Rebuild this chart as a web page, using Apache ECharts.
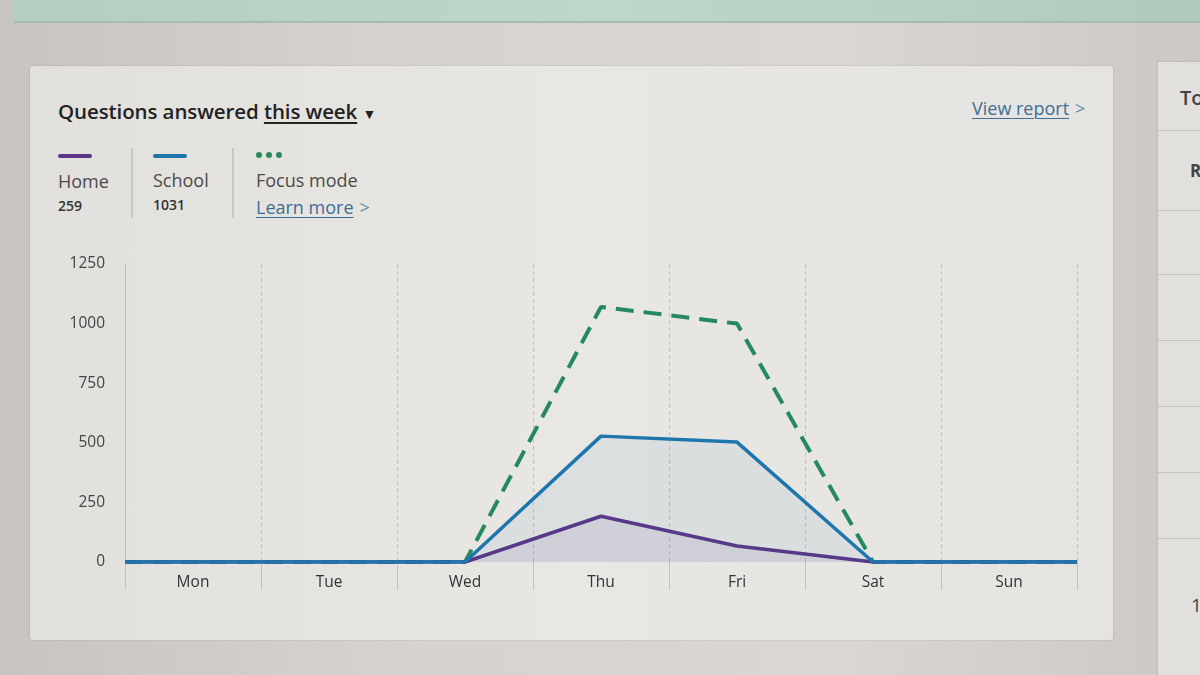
<!DOCTYPE html>
<html><head><meta charset="utf-8">
<script src="https://cdn.jsdelivr.net/npm/echarts@6/dist/echarts.min.js"></script>
<style>
body{margin:0;width:1200px;height:675px;overflow:hidden;position:relative;
 background:linear-gradient(90deg,#c8c4c1 0%,#d6d3d0 35%,#d9d6d3 70%,#cbc8c5 100%);
 font-family:"Open Sans","Noto Sans",sans-serif;}
.abs{position:absolute;white-space:nowrap;}
.strip{left:14px;top:0;width:1186px;height:21px;background:linear-gradient(90deg,#b3cfc1,#bcd8ca 50%,#b2cabe);border-bottom:2px solid #a7bcb1;}
.card{left:30px;top:66px;width:1083px;height:574px;background:linear-gradient(90deg,#e2e0dd,#e9e7e4 50%,#e6e4e1);border-radius:3px;box-shadow:0 0 2px rgba(0,0,0,0.18);}
.side{left:1158px;top:62px;width:60px;height:613px;background:#e2e0dd;box-shadow:0 0 2px rgba(0,0,0,0.18);overflow:hidden;}
.hr{position:absolute;left:0;width:60px;height:1px;background:#c6c4c1;}
.title{left:58px;top:98px;font-size:20.5px;color:#222;line-height:26px;font-weight:600;letter-spacing:-0.1px;}
.title u{text-decoration-thickness:2px;text-underline-offset:3px;}
.link{color:#3f6d93;text-decoration:underline;text-decoration-thickness:1px;text-underline-offset:3px;}
.chev{color:#5b84a6;text-decoration:none;margin-left:6px;}
.sw{height:4px;width:34px;border-radius:2px;}
.lname{font-size:18px;color:#4a4a4a;line-height:24px;}
.lval{font-size:14px;color:#333;font-weight:600;line-height:20px;}
.sep{width:2px;height:70px;top:148px;background:#c9c7c4;}
.dot{width:6px;height:6px;border-radius:3px;background:#2a8a5c;top:152px;}
#chart{position:absolute;left:0;top:0;width:1200px;height:675px;}
</style></head>
<body>
<div class="abs strip"></div>
<div class="abs card"></div>
<div class="abs side">
  <div class="abs" style="left:22px;top:22px;font-size:20px;color:#444;font-weight:600;">To</div>
  <div class="hr" style="top:68px"></div>
  <div class="abs" style="left:32px;top:97px;font-size:17px;color:#444;font-weight:700;">R</div>
  <div class="hr" style="top:148px"></div>
  <div class="hr" style="top:212px"></div>
  <div class="hr" style="top:278px"></div>
  <div class="hr" style="top:344px"></div>
  <div class="hr" style="top:410px"></div>
  <div class="hr" style="top:476px"></div>
  <div class="abs" style="left:33px;top:530px;font-size:19px;color:#444;">1</div>
</div>

<div class="abs title">Questions answered <u>this week</u> <span style="font-size:14px;">&#9660;</span></div>
<div class="abs" style="left:972px;top:96px;font-size:18px;line-height:24px;"><span class="link">View report</span><span class="chev">&gt;</span></div>

<div class="abs sw" style="left:58px;top:154px;background:#5b3587;"></div>
<div class="abs lname" style="left:58px;top:169px;">Home</div>
<div class="abs lval" style="left:58px;top:196px;">259</div>
<div class="abs sep" style="left:131px;"></div>

<div class="abs sw" style="left:153px;top:154px;background:#1f76ad;"></div>
<div class="abs lname" style="left:153px;top:168px;">School</div>
<div class="abs lval" style="left:153px;top:195px;">1031</div>
<div class="abs sep" style="left:232px;"></div>

<div class="abs dot" style="left:256px;"></div>
<div class="abs dot" style="left:266px;"></div>
<div class="abs dot" style="left:276px;"></div>
<div class="abs lname" style="left:256px;top:168px;">Focus mode</div>
<div class="abs" style="left:256px;top:195px;font-size:18px;line-height:24px;"><span class="link">Learn more</span><span class="chev">&gt;</span></div>

<div id="chart"></div>
<script>
const days = ['Mon', 'Tue', 'Wed', 'Thu', 'Fri', 'Sat', 'Sun'];
const home = [0, 0, 0, 192, 67, 0, 0];
const school = [0, 0, 0, 528, 503, 0, 0];
const focusMode = [0, 0, 0, 1070, 1000, 0, 0];
const yMax = 1250;
const yStep = 250;

// points at category centres, plus flat extension to the plot edges
function toPts(arr) {
  const pts = arr.map((v, i) => [i, v]);
  return [[-0.5, arr[0]]].concat(pts, [[arr.length - 0.5, arr[arr.length - 1]]]);
}

const chart = echarts.init(document.getElementById('chart'), null, {renderer: 'canvas'});
chart.setOption({
  animation: false,
  backgroundColor: 'transparent',
  grid: {left: 125, right: 123, top: 264, bottom: 113},
  xAxis: [
    {
      type: 'value', min: -0.5, max: days.length - 0.5, interval: 1,
      axisLine: {show: false, onZero: false},
      axisLabel: {show: false},
      axisTick: {show: true, length: 28, lineStyle: {color: '#c4c2bf', width: 1}},
      splitLine: {show: true, lineStyle: {color: '#c3c1be', width: 1, type: [4, 3]}}
    },
    {
      type: 'category', data: days, boundaryGap: true, position: 'bottom',
      axisLine: {show: false, onZero: false}, axisTick: {show: false}, splitLine: {show: false},
      axisLabel: {color: '#333', fontSize: 15.5, margin: 13, fontFamily: 'Open Sans'}
    }
  ],
  yAxis: {
    type: 'value', min: 0, max: yMax, interval: yStep,
    axisLine: {show: true, onZero: false, lineStyle: {color: '#bdbbb8', width: 1}},
    axisTick: {show: false},
    splitLine: {show: false},
    axisLabel: {color: '#444', fontSize: 15.5, margin: 20, fontFamily: 'Open Sans',
      formatter: v => String(v)}
  },
  series: [
    {
      name: 'Focus mode', type: 'line', xAxisIndex: 0, data: toPts(focusMode),
      symbol: 'none', z: 2,
      lineStyle: {color: '#248a5d', width: 4, type: [18, 10]}
    },
    {
      name: 'Home', type: 'line', xAxisIndex: 0, data: toPts(home),
      symbol: 'none', z: 3,
      lineStyle: {color: '#5b3587', width: 3.5},
      areaStyle: {color: 'rgba(91,53,135,0.13)'}
    },
    {
      name: 'School', type: 'line', xAxisIndex: 0, data: toPts(school),
      symbol: 'none', z: 4,
      lineStyle: {color: '#1f76ad', width: 3.5},
      areaStyle: {color: 'rgba(31,118,173,0.09)'}
    }
  ]
});
</script>
</body></html>
